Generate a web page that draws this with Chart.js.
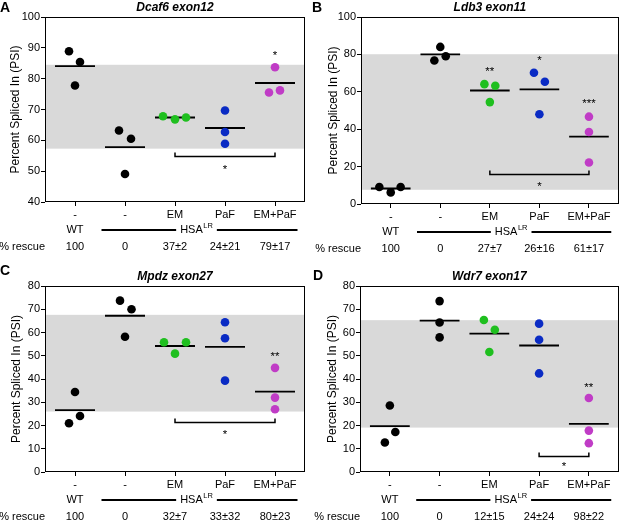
<!DOCTYPE html>
<html><head><meta charset="utf-8">
<script src="https://cdn.jsdelivr.net/npm/chart.js@4.4.1/dist/chart.umd.min.js"></script>
<style>
html,body{margin:0;padding:0;background:#fff;}
#wrap{position:relative;width:623px;height:521px;overflow:hidden;}
canvas{position:absolute;}
</style></head><body>
<div id="wrap">
<canvas id="cA" width="311" height="260" style="left:0;top:0"></canvas>
<canvas id="cB" width="312" height="260" style="left:311px;top:0"></canvas>
<canvas id="cC" width="311" height="261" style="left:0;top:260px"></canvas>
<canvas id="cD" width="312" height="261" style="left:311px;top:260px"></canvas>
</div>
<script>
// ---------- shared labels ----------
const categories = ['-', '-', 'EM', 'PaF', 'EM+PaF'];
const genotypeWT = 'WT';
const genotypeHSA = 'HSA';
const genotypeHSASup = 'LR';
const rescueLabel = '% rescue';
const yTitle = 'Percent Spliced In (PSI)';
const groupColors = ['#000000', '#000000', '#1fbf1f', '#0a2bc4', '#c03cc6'];

// ---------- Panel A: Dcaf6 exon12 ----------
const A_title = 'Dcaf6 exon12';
const A_WT = [88.9, 85.4, 77.8];
const A_HSA = [63.2, 60.5, 49.1];
const A_EM = [67.8, 66.8, 67.4];
const A_PaF = [69.7, 62.7, 58.9];
const A_EMPaF = [83.7, 75.5, 76.2];
const A_jitter = [[-0.12, 0.1, 0], [-0.12, 0.12, 0], [-0.24, 0, 0.22], [0, 0, 0], [0, -0.12, 0.1]];
const A_means = [84.1, 57.8, 67.4, 64.0, 78.6];
const A_band = [57.3, 84.5];
const A_stars = [['', 0], ['', 0], ['', 0], ['', 0], ['*', 88.4]];
const A_bracket = [2, 4, 54.8, 51.4];
const A_rescue = ['100', '0', '37±2', '24±21', '79±17'];
const A_yTicks = [40, 50, 60, 70, 80, 90, 100];

// ---------- Panel B: Ldb3 exon11 ----------
const B_title = 'Ldb3 exon11';
const B_WT = [9.06, 6.2, 9.06];
const B_HSA = [84.0, 76.7, 79.0];
const B_EM = [64.1, 63.2, 54.5];
const B_PaF = [70.2, 65.4, 48.0];
const B_EMPaF = [46.7, 38.5, 22.2];
const B_jitter = [[-0.23, 0, 0.2], [0, -0.12, 0.11], [-0.11, 0.11, 0], [-0.11, 0.11, 0], [0, 0, 0]];
const B_means = [8.3, 80.0, 60.7, 61.3, 36.0];
const B_band = [7.6, 80.1];
const B_stars = [['', 0], ['', 0], ['**', 72.0], ['*', 78.2], ['***', 55.0]];
const B_bracket = [2, 4, 16.2, 10.7];
const B_rescue = ['100', '0', '27±7', '26±16', '61±17'];
const B_yTicks = [0, 20, 40, 60, 80, 100];

// ---------- Panel C: Mpdz exon27 ----------
const C_title = 'Mpdz exon27';
const C_WT = [34.4, 21.0, 24.1];
const C_HSA = [73.7, 70.0, 58.2];
const C_EM = [55.8, 50.9, 55.8];
const C_PaF = [64.4, 57.5, 39.3];
const C_EMPaF = [44.8, 32.0, 27.0];
const C_jitter = [[0, -0.12, 0.1], [-0.1, 0.13, 0], [-0.22, 0, 0.22], [0, 0, 0], [0, 0, 0]];
const C_means = [26.6, 67.2, 54.2, 53.8, 34.6];
const C_band = [26.0, 67.6];
const C_stars = [['', 0], ['', 0], ['', 0], ['', 0], ['**', 50.8]];
const C_bracket = [2, 4, 21.3, 17.0];
const C_rescue = ['100', '0', '32±7', '33±32', '80±23'];
const C_yTicks = [0, 10, 20, 30, 40, 50, 60, 70, 80];

// ---------- Panel D: Wdr7 exon17 ----------
const D_title = 'Wdr7 exon17';
const D_WT = [28.6, 17.2, 12.7];
const D_HSA = [73.5, 64.3, 57.9];
const D_EM = [65.4, 61.2, 51.6];
const D_PaF = [63.8, 56.9, 42.4];
const D_EMPaF = [31.8, 17.8, 12.4];
const D_jitter = [[0, 0.11, -0.1], [0, 0, 0], [-0.11, 0.11, 0], [0, 0, 0], [0, 0, 0]];
const D_means = [19.7, 65.1, 59.5, 54.4, 20.7];
const D_band = [19.1, 65.3];
const D_stars = [['', 0], ['', 0], ['', 0], ['', 0], ['**', 37.6]];
const D_bracket = [3, 4, 7.0, 3.3];
const D_rescue = ['100', '0', '12±15', '24±24', '98±22'];
const D_yTicks = [0, 10, 20, 30, 40, 50, 60, 70, 80];

const FONT = "'Liberation Sans', Arial, sans-serif";

function makePanel(p) {
  const groups = [p.wt, p.hsa, p.em, p.paf, p.empaf];
  const datasets = [];
  groups.forEach((vals, gi) => {
    datasets.push({
      data: vals.map((v, k) => ({ x: gi + p.jitter[gi][k], y: v })),
      backgroundColor: groupColors[gi], borderWidth: 0,
      pointRadius: 4.3, showLine: false, order: 1
    });
  });
  p.means.forEach((m, gi) => {
    datasets.push({
      data: [{ x: gi - 0.4, y: m }, { x: gi + 0.4, y: m }],
      borderColor: '#000', borderWidth: 1.8, pointRadius: 0,
      showLine: true, fill: false, order: 2
    });
  });

  const deco = {
    id: 'deco',
    beforeDatasetsDraw(chart) {
      const { ctx, chartArea: ca, scales: { y } } = chart;
      ctx.save();
      ctx.fillStyle = '#d9d9d9';
      const y1 = y.getPixelForValue(p.band[1]), y0 = y.getPixelForValue(p.band[0]);
      ctx.fillRect(ca.left, y1, ca.right - ca.left, y0 - y1);
      ctx.restore();
    },
    afterDatasetsDraw(chart) {
      const { ctx, chartArea: ca, scales: { x, y } } = chart;
      ctx.save();
      ctx.fillStyle = '#000';
      ctx.font = '11.5px ' + FONT;
      ctx.textAlign = 'center';
      ctx.textBaseline = 'alphabetic';
      p.stars.forEach((s, gi) => {
        if (!s[0]) return;
        ctx.fillText(s[0], x.getPixelForValue(gi), y.getPixelForValue(s[1]) + 6);
      });
      const bx0 = x.getPixelForValue(p.bracket[0]), bx1 = x.getPixelForValue(p.bracket[1]);
      const by = Math.round(y.getPixelForValue(p.bracket[2])) + 0.5;
      ctx.strokeStyle = '#000'; ctx.lineWidth = 1.5;
      ctx.beginPath();
      ctx.moveTo(bx0, by - 4); ctx.lineTo(bx0, by); ctx.lineTo(bx1, by); ctx.lineTo(bx1, by - 4);
      ctx.stroke();
      ctx.fillText('*', (bx0 + bx1) / 2, y.getPixelForValue(p.bracket[3]) + 6);
      ctx.lineWidth = 1;
      ctx.strokeRect(Math.round(ca.left) + 0.5, Math.round(ca.top) + 0.5,
        Math.round(ca.right - ca.left) - 1, Math.round(ca.bottom - ca.top) - 1);
      ctx.restore();
    },
    afterDraw(chart) {
      const { ctx, chartArea: ca, scales: { x } } = chart;
      ctx.save();
      ctx.fillStyle = '#000';
      ctx.font = 'italic bold 12px ' + FONT;
      ctx.textAlign = 'center'; ctx.textBaseline = 'middle';
      ctx.fillText(p.title, (ca.left + ca.right) / 2, ca.top - 9.5);
      ctx.font = 'bold 14px ' + FONT;
      ctx.textAlign = 'left';
      ctx.fillText(p.letter, p.letterX, p.letterY);
      const rowY = ca.bottom + 28;
      ctx.font = '11px ' + FONT;
      ctx.textAlign = 'center';
      ctx.fillText(genotypeWT, x.getPixelForValue(0), rowY);
      const wMain = ctx.measureText(genotypeHSA).width;
      ctx.font = '7.5px ' + FONT;
      const wSup = ctx.measureText(genotypeHSASup).width;
      const tw = wMain + wSup + 0.5;
      const cx = x.getPixelForValue(2.43);
      const tl = cx - tw / 2;
      ctx.textAlign = 'left';
      ctx.font = '11px ' + FONT;
      ctx.fillText(genotypeHSA, tl, rowY);
      ctx.font = '7.5px ' + FONT;
      ctx.fillText(genotypeHSASup, tl + wMain + 0.5, rowY - 4);
      ctx.strokeStyle = '#000'; ctx.lineWidth = 2.2;
      ctx.beginPath();
      ctx.moveTo(x.getPixelForValue(0.53), rowY); ctx.lineTo(tl - 4, rowY);
      ctx.moveTo(tl + tw + 4, rowY); ctx.lineTo(x.getPixelForValue(4.45), rowY);
      ctx.stroke();
      const rY = ca.bottom + 44.5;
      ctx.font = '11px ' + FONT;
      ctx.textAlign = 'right';
      ctx.fillText(rescueLabel, ca.left, rY);
      ctx.textAlign = 'center';
      p.rescue.forEach((t, gi) => ctx.fillText(t, x.getPixelForValue(gi), rY));
      ctx.restore();
    }
  };

  const canvas = document.getElementById(p.id);
  const W = canvas.width, H = canvas.height;
  return new Chart(canvas, {
    type: 'scatter',
    data: { datasets },
    options: {
      responsive: false, animation: false, devicePixelRatio: 1,
      layout: { padding: { left: 0, top: p.area[1], right: W - p.area[2], bottom: 0 } },
      plugins: { legend: { display: false }, tooltip: { enabled: false }, title: { display: false } },
      scales: {
        x: {
          type: 'linear', min: -0.6, max: 4.6,
          afterBuildTicks: (s) => { s.ticks = categories.map((c, i) => ({ value: i })); },
          afterFit: (s) => { s.height = H - p.area[3]; },
          ticks: { callback: (v) => categories[v], autoSkip: false, maxRotation: 0, padding: 2,
                   color: '#000', font: { family: FONT, size: 11 } },
          grid: { drawOnChartArea: false, drawTicks: true, tickLength: 4, color: '#000', lineWidth: 1 },
          border: { display: false }
        },
        y: {
          min: p.yTicks[0], max: p.yTicks[p.yTicks.length - 1],
          afterBuildTicks: (s) => { s.ticks = p.yTicks.map(v => ({ value: v })); },
          afterFit: (s) => { s.width = p.area[0]; },
          ticks: { padding: 1, color: '#000', font: { family: FONT, size: 11 } },
          grid: { drawOnChartArea: false, drawTicks: true, tickLength: 4, color: '#000', lineWidth: 1 },
          border: { display: false },
          title: { display: true, text: yTitle, color: '#000', font: { family: FONT, size: 12 },
                   padding: { top: p.titlePad, bottom: 0 } }
        }
      }
    },
    plugins: [deco]
  });
}

makePanel({ id: 'cA', letter: 'A', letterX: 0, letterY: 8.5, title: A_title, area: [45, 17, 305, 202],
  wt: A_WT, hsa: A_HSA, em: A_EM, paf: A_PaF, empaf: A_EMPaF, jitter: A_jitter, means: A_means,
  band: A_band, stars: A_stars, bracket: A_bracket, rescue: A_rescue, yTicks: A_yTicks, titlePad: 8 });
makePanel({ id: 'cB', letter: 'B', letterX: 1, letterY: 8.5, title: B_title, area: [50, 17, 310, 204],
  wt: B_WT, hsa: B_HSA, em: B_EM, paf: B_PaF, empaf: B_EMPaF, jitter: B_jitter, means: B_means,
  band: B_band, stars: B_stars, bracket: B_bracket, rescue: B_rescue, yTicks: B_yTicks, titlePad: 15 });
makePanel({ id: 'cC', letter: 'C', letterX: 0, letterY: 11.5, title: C_title, area: [45, 26, 305, 212],
  wt: C_WT, hsa: C_HSA, em: C_EM, paf: C_PaF, empaf: C_EMPaF, jitter: C_jitter, means: C_means,
  band: C_band, stars: C_stars, bracket: C_bracket, rescue: C_rescue, yTicks: C_yTicks, titlePad: 9 });
makePanel({ id: 'cD', letter: 'D', letterX: 2, letterY: 16, title: D_title, area: [49, 26, 310, 212],
  wt: D_WT, hsa: D_HSA, em: D_EM, paf: D_PaF, empaf: D_EMPaF, jitter: D_jitter, means: D_means,
  band: D_band, stars: D_stars, bracket: D_bracket, rescue: D_rescue, yTicks: D_yTicks, titlePad: 14 });
</script>
</body></html>
